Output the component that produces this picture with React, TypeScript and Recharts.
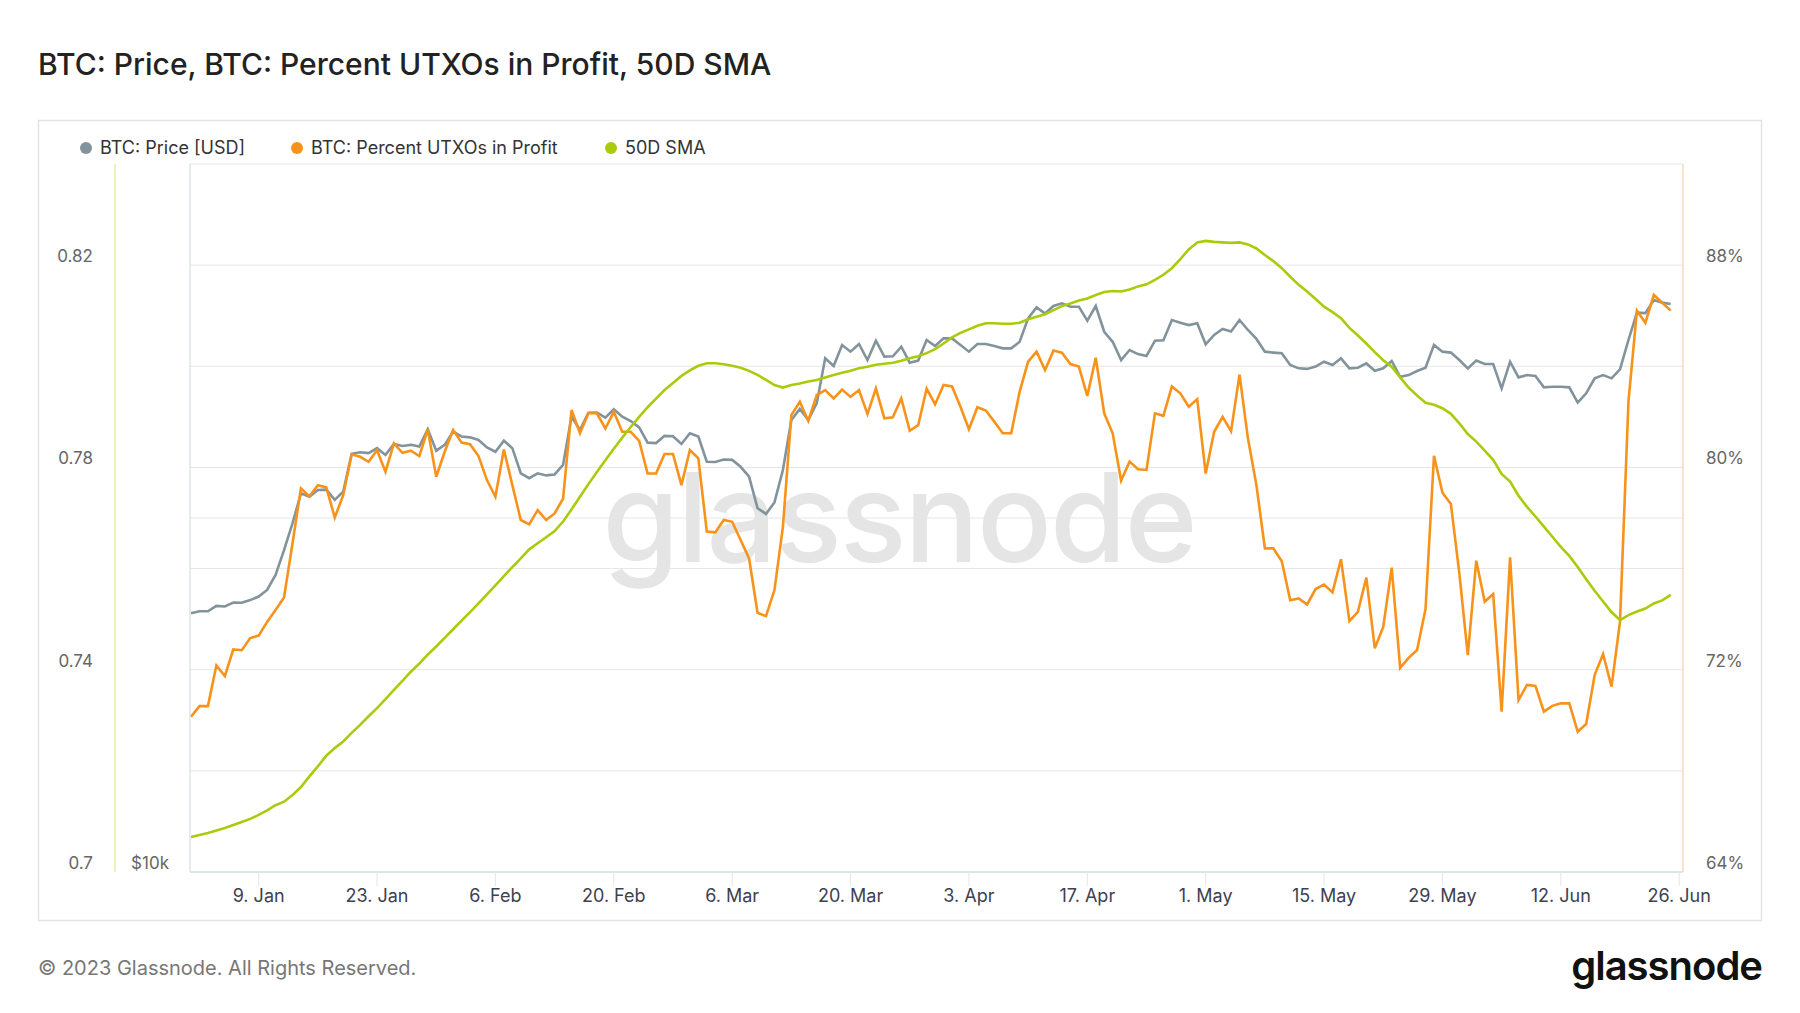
import { LineChart, Line, XAxis, YAxis, CartesianGrid, ReferenceLine } from 'recharts'

// daily values, 1 Jan 2023 -> 25 Jun 2023
const PRICE = [
  16600, 16660, 16660, 16840, 16820, 16950, 16940, 17030, 17150, 17370,
  17890, 18780, 19790, 20990, 20850, 21130, 21140, 20720, 21060, 22680,
  22750, 22710, 22930, 22630, 23120, 23030, 23080, 23000, 23800, 22820,
  23080, 23690, 23460, 23420, 23300, 22960, 22770, 23270, 22930, 21830,
  21620, 21830, 21740, 21780, 22190, 24390, 23760, 24580, 24590, 24340,
  24740, 24390, 24180, 23880, 23180, 23160, 23490, 23470, 23120, 23610,
  23460, 22330, 22320, 22430, 22410, 22110, 21690, 20390, 20160, 20620,
  21970, 24230, 24760, 24240, 25030, 27340, 26930, 28060, 27700, 28120,
  27250, 28300, 27430, 27450, 27970, 27110, 27220, 28340, 28010, 28430,
  28430, 28060, 27700, 28120, 28120, 28010, 27880, 27880, 28240, 29570,
  30210, 29850, 30290, 30450, 30250, 30250, 29430, 30290, 28800, 28240,
  27250, 27790, 27570, 27470, 28300, 28320, 29470, 29320, 29180, 29290,
  28100, 28620, 28960, 28810, 29470, 28900, 28400, 27700, 27650, 27610,
  26990, 26810, 26780, 26900, 27160, 26990, 27340, 26810, 26840, 27070,
  26680, 26810, 27200, 26370, 26460, 26670, 26840, 28070, 27700, 27650,
  27250, 26810, 27220, 27040, 27040, 25780, 27160, 26340, 26460, 26410,
  25830, 25860, 25860, 25830, 25070, 25530, 26290, 26460, 26290, 26760,
  28340, 29900, 29870, 30650, 30490, 30410,
]

const PCT_IN_PROFIT = [
  70.14, 70.56, 70.56, 72.17, 71.75, 72.8, 72.77, 73.25, 73.35, 73.89,
  74.36, 74.86, 76.99, 79.17, 78.86, 79.3, 79.21, 78.02, 78.9, 80.52,
  80.42, 80.22, 80.68, 79.83, 80.95, 80.58, 80.66, 80.45, 81.5, 79.63,
  80.62, 81.48, 80.98, 80.92, 80.45, 79.5, 78.84, 80.71, 79.3, 77.92,
  77.75, 78.31, 77.92, 78.18, 78.77, 82.27, 81.35, 82.14, 82.14, 81.54,
  82.2, 81.41, 81.41, 81.05, 79.76, 79.76, 80.53, 80.53, 79.3, 80.69,
  80.36, 77.46, 77.43, 77.92, 77.85, 77.13, 76.4, 74.25, 74.12, 75.15,
  77.65, 82.07, 82.6, 81.84, 82.86, 83.06, 82.73, 83.08, 82.79, 83.06,
  82.11, 83.12, 81.94, 81.98, 82.73, 81.45, 81.67, 83.12, 82.5, 83.26,
  83.2, 82.4, 81.51, 82.38, 82.25, 81.81, 81.35, 81.35, 83.0, 84.18,
  84.58, 83.85, 84.62, 84.54, 84.09, 83.99, 82.83, 84.34, 82.14, 81.35,
  79.48, 80.23, 79.93, 79.9, 82.14, 82.04, 83.2, 82.93, 82.4, 82.7,
  79.76, 81.41, 82.0, 81.43, 83.67, 81.14, 79.3, 76.8, 76.8, 76.29,
  74.75, 74.82, 74.58, 75.19, 75.37, 75.06, 76.37, 73.92, 74.29, 75.64,
  72.85, 73.69, 76.04, 72.07, 72.47, 72.78, 74.4, 80.46, 79.0, 78.55,
  75.81, 72.58, 76.31, 74.69, 74.99, 70.34, 76.44, 70.8, 71.4, 71.36,
  70.34, 70.57, 70.67, 70.67, 69.55, 69.85, 71.79, 72.62, 71.33, 73.9,
  82.6, 86.2, 85.72, 86.82, 86.51, 86.2,
]

const SMA_50D = [
  0.7069, 0.7073, 0.7077, 0.7082, 0.7087, 0.7093, 0.7099, 0.7105, 0.7113, 0.7122,
  0.7132, 0.7139, 0.7152, 0.7168, 0.7189, 0.7209, 0.723, 0.7245, 0.7258, 0.7275,
  0.7291, 0.7308, 0.7324, 0.7342, 0.736, 0.7378, 0.7396, 0.7412, 0.743, 0.7446,
  0.7463, 0.748, 0.7497, 0.7514, 0.7531, 0.7549, 0.7567, 0.7585, 0.7603, 0.762,
  0.7638, 0.765, 0.7662, 0.7674, 0.7693, 0.7717, 0.7742, 0.7767, 0.7791, 0.7814,
  0.7837, 0.7859, 0.788, 0.79, 0.7919, 0.7936, 0.7953, 0.7967, 0.7981, 0.7992,
  0.8001, 0.8006, 0.8006, 0.8004, 0.8001, 0.7997, 0.7991, 0.7983, 0.7973, 0.7963,
  0.7958, 0.7963, 0.7966, 0.797, 0.7973, 0.7978, 0.7983, 0.7987, 0.7991, 0.7996,
  0.7999, 0.8003, 0.8005, 0.8007, 0.8011, 0.8016, 0.802, 0.8026, 0.8034, 0.8045,
  0.8057, 0.8066, 0.8073, 0.808, 0.8085, 0.8085, 0.8084, 0.8084, 0.8086, 0.8093,
  0.8098, 0.8103, 0.8111, 0.8119, 0.8124, 0.813, 0.8134, 0.8141, 0.8147, 0.8149,
  0.8148, 0.8152, 0.8158, 0.8162, 0.8171, 0.8181, 0.8194, 0.8212, 0.8231, 0.8245,
  0.8248, 0.8246, 0.8245, 0.8244, 0.8245, 0.8241, 0.8233, 0.822, 0.8208, 0.8194,
  0.8177, 0.8161, 0.8148, 0.8133, 0.8118, 0.8107, 0.8095, 0.8076, 0.8061, 0.8045,
  0.8028, 0.8012, 0.7999, 0.7978, 0.7958, 0.7942, 0.7928, 0.7924, 0.7917, 0.7906,
  0.7887, 0.7866, 0.7851, 0.7833, 0.7815, 0.7787, 0.7772, 0.7744, 0.7722, 0.7703,
  0.7683, 0.7663, 0.7643, 0.7625, 0.7603, 0.7579, 0.7556, 0.7535, 0.7514, 0.7498,
  0.7508, 0.7515, 0.7521, 0.7531, 0.7537, 0.7548,
]

// x ticks are day offsets from 1 Jan
const X_TICKS = [8, 22, 36, 50, 64, 78, 92, 106, 120, 134, 148, 162, 176]
const X_LABELS = [
  '9. Jan', '23. Jan', '6. Feb', '20. Feb', '6. Mar', '20. Mar', '3. Apr',
  '17. Apr', '1. May', '15. May', '29. May', '12. Jun', '26. Jun',
]

const SMA_TICKS = [0.7, 0.72, 0.74, 0.76, 0.78, 0.8, 0.82, 0.84]
const SMA_LABELS = ['0.7', '', '0.74', '', '0.78', '', '0.82', '']
const PCT_TICKS = [64, 68, 72, 76, 80, 84, 88, 92]
const PCT_LABELS = ['64%', '', '72%', '', '80%', '', '88%', '']
const PRICE_TICKS = [10000]
const PRICE_LABELS = ['$10k']
const PRICE_GRID = [20000]

const C_PRICE = '#83939c'
const C_PCT = '#f7931a'
const C_SMA = '#a9cc0a'
const FONT = 'Inter, sans-serif'

const chartData = PRICE.map((price, i) => ({
  day: i,
  price,
  pct: PCT_IN_PROFIT[i],
  sma: SMA_50D[i],
}))

const findLabel = (ticks: number[], labels: string[], v: number) => {
  const i = ticks.findIndex((t) => Math.abs(t - v) < 1e-6)
  return i >= 0 ? labels[i] : ''
}

function LeftTick({ x, y, payload, ticks, labels, dx }: any) {
  const label = findLabel(ticks, labels, payload.value)
  if (!label) return <g />
  return (
    <text x={x + dx} y={y - 3} textAnchor="end" fontSize={17} fontFamily={FONT} fill="#666666">
      {label}
    </text>
  )
}

function RightTick({ x, y, payload }: any) {
  const label = findLabel(PCT_TICKS, PCT_LABELS, payload.value)
  if (!label) return <g />
  return (
    <text x={x + 23} y={y - 3} textAnchor="start" fontSize={17} fontFamily={FONT} fill="#666666">
      {label}
    </text>
  )
}

function DayTick({ x, y, payload }: any) {
  const label = findLabel(X_TICKS, X_LABELS, payload.value)
  return (
    <g>
      <line x1={x} x2={x} y1={y} y2={y + 14} stroke="#e6e6e6" />
      <text x={x} y={y + 30} textAnchor="middle" fontSize={18} fontFamily={FONT} fill="#3d4150">
        {label}
      </text>
    </g>
  )
}

const legendItems = [
  { label: 'BTC: Price [USD]', color: C_PRICE, x: 86 },
  { label: 'BTC: Percent UTXOs in Profit', color: C_PCT, x: 297 },
  { label: '50D SMA', color: C_SMA, x: 611 },
]

export default function App() {
  return (
    <div style={{ position: 'absolute', left: 0, top: 0, width: 1800, height: 1013, background: '#fff' }}>
      <svg width={1800} height={1013} style={{ position: 'absolute', left: 0, top: 0 }}>
        <text x={38} y={75} fontSize={30} fontWeight={500} fontFamily={FONT} fill="#222">
          BTC: Price, BTC: Percent UTXOs in Profit, 50D SMA
        </text>
        <rect x={38.5} y={120.5} width={1723} height={800} fill="none" stroke="#e3e3e3" strokeWidth={1.5} />
        {legendItems.map((it) => (
          <g key={it.label}>
            <circle cx={it.x} cy={148} r={6} fill={it.color} />
            <text x={it.x + 14} y={154} fontSize={18} fontFamily={FONT} fill="#333">
              {it.label}
            </text>
          </g>
        ))}
        <text x={899} y={562} textAnchor="middle" fontSize={124} fontWeight={500} fontFamily={FONT} fill="#e5e5e5" letterSpacing={-2}>
          glassnode
        </text>
        <text x={38} y={975} fontSize={20} fontFamily={FONT} fill="#777">
          © 2023 Glassnode. All Rights Reserved.
        </text>
        <text x={1762} y={980} textAnchor="end" fontSize={40} fontWeight={600} fontFamily={FONT} fill="#111" letterSpacing={-1}>
          glassnode
        </text>
      </svg>
      <div style={{ position: 'absolute', left: 38, top: 120 }}>
        <LineChart width={1724} height={800} data={chartData} margin={{ top: 44, right: 0, bottom: 0, left: 0 }}>
          <CartesianGrid yAxisId="sma" vertical={false} stroke="#e6e6e6" />
          <XAxis
            dataKey="day"
            type="number"
            domain={[-0.12, 176.45]}
            ticks={X_TICKS}
            interval={0}
            height={48}
            tickSize={0}
            tickMargin={0}
            tickLine={false}
            axisLine={{ stroke: '#ccd6dd' }}
            tick={<DayTick />}
            allowDataOverflow
          />
          <YAxis
            yAxisId="price"
            orientation="left"
            width={75}
            scale="log"
            domain={[10000, 40000]}
            ticks={PRICE_TICKS}
            interval={0}
            tickSize={0}
            tickMargin={0}
            tickLine={false}
            axisLine={{ stroke: '#ccd6dd' }}
            tick={<LeftTick ticks={PRICE_TICKS} labels={PRICE_LABELS} dx={-21} />}
            allowDataOverflow
          />
          <YAxis
            yAxisId="sma"
            orientation="left"
            width={77}
            domain={[0.7, 0.84]}
            ticks={SMA_TICKS}
            interval={0}
            tickSize={0}
            tickMargin={0}
            tickLine={false}
            axisLine={{ stroke: '#d4e67f' }}
            tick={<LeftTick ticks={SMA_TICKS} labels={SMA_LABELS} dx={-22} />}
            allowDataOverflow
          />
          <YAxis
            yAxisId="pct"
            orientation="right"
            width={79}
            domain={[64, 92]}
            ticks={PCT_TICKS}
            interval={0}
            tickSize={0}
            tickMargin={0}
            tickLine={false}
            axisLine={{ stroke: '#fbc98d' }}
            tick={<RightTick />}
            allowDataOverflow
          />
          {PRICE_GRID.map((p) => (
            <ReferenceLine key={p} yAxisId="price" y={p} stroke="#e6e6e6" />
          ))}
          <Line yAxisId="price" dataKey="price" stroke={C_PRICE} strokeWidth={2.6} dot={false} isAnimationActive={false} />
          <Line yAxisId="pct" dataKey="pct" stroke={C_PCT} strokeWidth={2.6} dot={false} isAnimationActive={false} />
          <Line yAxisId="sma" dataKey="sma" stroke={C_SMA} strokeWidth={2.6} dot={false} isAnimationActive={false} />
        </LineChart>
      </div>
    </div>
  )
}
